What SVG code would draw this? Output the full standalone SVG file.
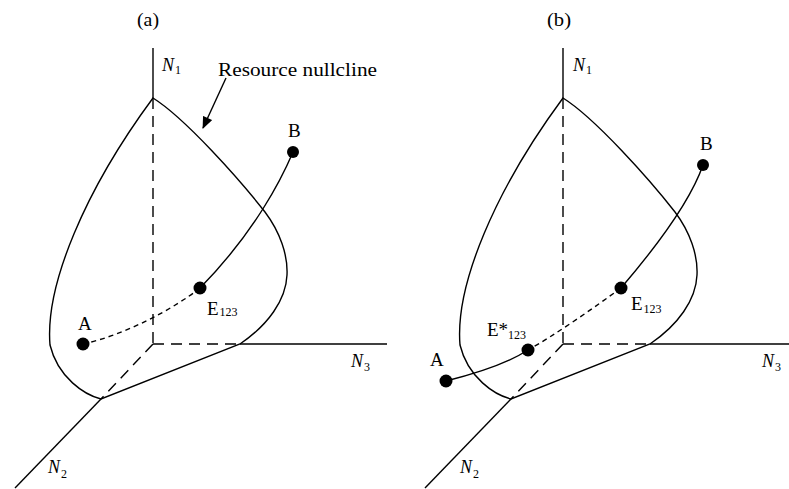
<svg xmlns="http://www.w3.org/2000/svg" width="789" height="489" viewBox="0 0 789 489">
<style>
.ln{fill:none;stroke:#000;stroke-width:1.4}
.ax{fill:none;stroke:#000;stroke-width:1.4;stroke-dasharray:11,7}
.tr{fill:none;stroke:#000;stroke-width:1.4;stroke-dasharray:5,4}
.pt{fill:#000}
text{font-family:"Liberation Serif","Times New Roman",serif;fill:#000}
.lb{font-size:19px}
.it{font-size:18px;font-style:italic}
.sb{font-size:12px;font-style:normal}
</style>
<defs>
<marker id="ah" viewBox="0 0 12 10" refX="11" refY="5" markerWidth="13" markerHeight="10" markerUnits="userSpaceOnUse" orient="auto">
<path d="M0,0 L12,5 L0,10 z" fill="#000"/>
</marker>
<g id="frame">
<path class="ln" d="M153,48 L153,98"/>
<path class="ax" d="M153,98 L153,344"/>
<path class="ax" d="M153,344 L240,344"/>
<path class="ln" d="M240,344 L387,344"/>
<path class="ax" d="M153,344 L101,399"/>
<path class="ln" d="M101,399 L15,488"/>
<path class="ln" d="M153,98 C185,118 240,180 265,212 C280,232 288,255 287,275 C286,300 268,325 240,344 L101,399 C85,395 58,378 50,345 C45,285 85,190 153,98 Z"/>
</g>
</defs>
<g id="panel-a">
<use href="#frame"/>
<text class="lb" x="137" y="26" textLength="22" lengthAdjust="spacingAndGlyphs">(a)</text>
<g id="a-N1"><text class="it" x="162" y="71">N<tspan class="sb" dx="1" dy="3">1</tspan></text></g>
<g id="a-N2"><text class="it" x="48" y="473">N<tspan class="sb" dx="1" dy="5">2</tspan></text></g>
<g id="a-N3"><text class="it" x="351" y="367">N<tspan class="sb" dx="1" dy="4">3</tspan></text></g>
<g id="a-label"><text class="lb" x="218" y="76" textLength="159" lengthAdjust="spacingAndGlyphs">Resource nullcline</text></g>
</g>
<g id="panel-b">
<use href="#frame" transform="translate(410,0)"/>
<text class="lb" x="547" y="26" textLength="24" lengthAdjust="spacingAndGlyphs">(b)</text>
<g id="b-N1"><text class="it" x="573" y="71">N<tspan class="sb" dx="1" dy="3">1</tspan></text></g>
<g id="b-N2"><text class="it" x="460" y="473">N<tspan class="sb" dx="1" dy="5">2</tspan></text></g>
<g id="b-N3"><text class="it" x="762" y="367">N<tspan class="sb" dx="1" dy="4">3</tspan></text></g>
</g>
<g id="connectors">
<path class="ln" d="M226,78 L203,128" marker-end="url(#ah)"/>
<path class="ln" d="M293,152 C282,178 255,232 200,288"/>
<path class="tr" d="M200,288 C175,308 125,335 83,344"/>
<path class="ln" d="M703,165 C695,188 675,225 621,288"/>
<path class="tr" d="M621,288 C595,307 555,335 528,350"/>
<path class="ln" d="M446,381 C470,375 505,365 528,350"/>
</g>
<g id="a-B"><circle class="pt" cx="293" cy="152" r="6"/><text class="lb" x="288" y="137">B</text></g>
<g id="a-E"><circle class="pt" cx="200" cy="288" r="6.5"/><text class="lb" x="207" y="315">E<tspan class="sb" dx="1" dy="1">123</tspan></text></g>
<g id="a-A"><circle class="pt" cx="83" cy="344" r="6.5"/><text class="lb" x="78" y="330">A</text></g>
<g id="b-B"><circle class="pt" cx="703" cy="165" r="6"/><text class="lb" x="700" y="150">B</text></g>
<g id="b-E"><circle class="pt" cx="621" cy="288" r="6.5"/><text class="lb" x="631" y="310">E<tspan class="sb" dx="1" dy="3">123</tspan></text></g>
<g id="b-Estar"><circle class="pt" cx="528" cy="350" r="6.5"/><text class="lb" x="487" y="336">E*<tspan class="sb" dy="3">123</tspan></text></g>
<g id="b-A"><circle class="pt" cx="446" cy="381" r="6.5"/><text class="lb" x="430" y="366">A</text></g>
</svg>
